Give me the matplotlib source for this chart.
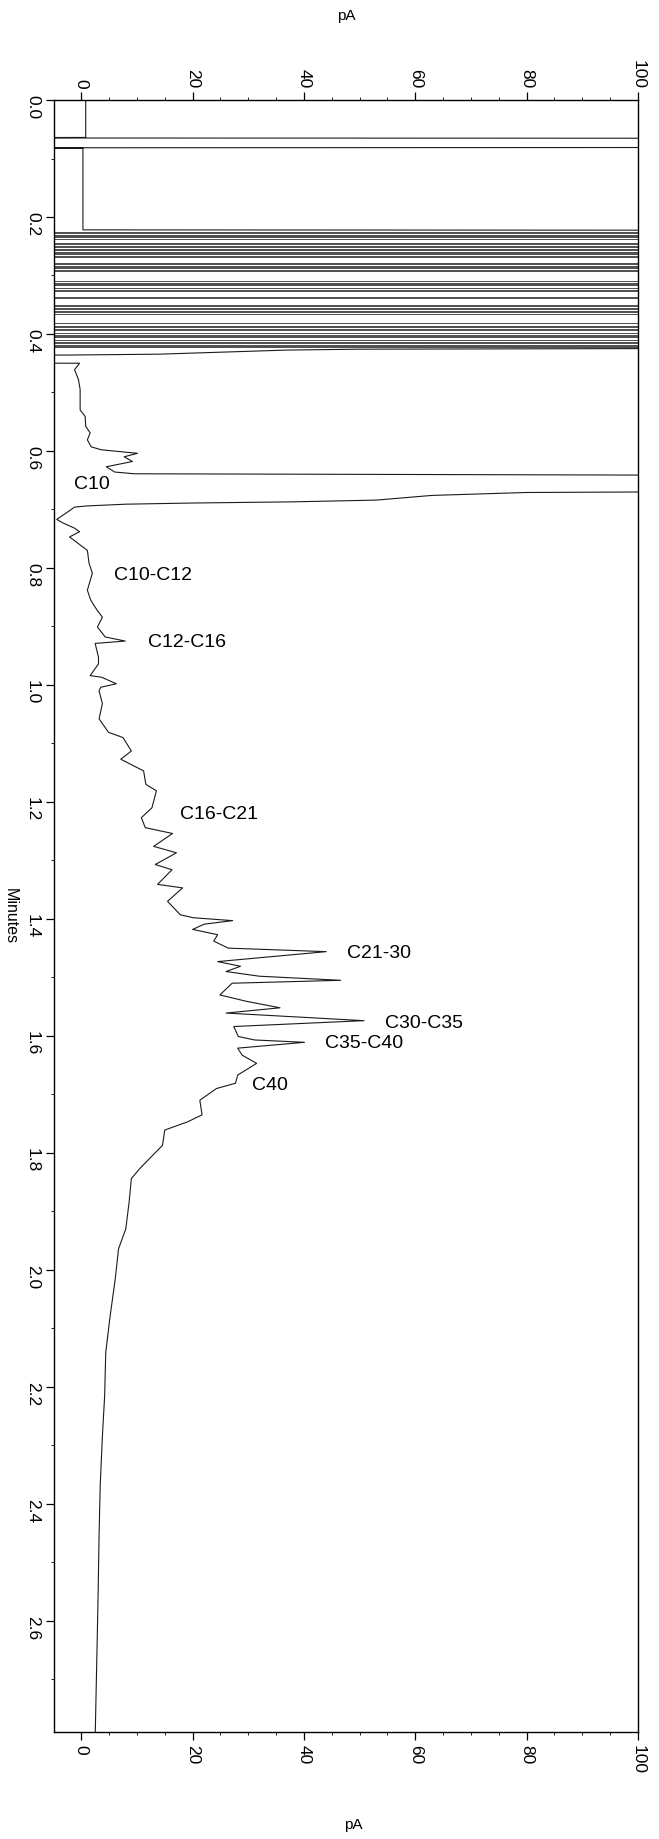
import numpy as np
import matplotlib
matplotlib.use("Agg")
import matplotlib.pyplot as plt
from matplotlib.ticker import MultipleLocator

plt.rcParams['font.family'] = ['Liberation Sans', 'DejaVu Sans']

# start of run: baseline, one off-scale swing, then flat until the solvent burst
start_min = [0.0, 0.064, 0.0648, 0.0655, 0.081, 0.0818, 0.0825, 0.222, 0.2228]
start_pA = [0.8, 0.8, -40, 150, 150, -40, 0.3, 0.3, 150]

# solvent burst: signal swings past both limits, each swing shows as a full-width line
burst_min = [0.226, 0.228, 0.230, 0.232, 0.233, 0.235, 0.238, 0.245, 0.247, 0.250,
             0.252, 0.254, 0.255, 0.257, 0.259, 0.262, 0.264, 0.266, 0.269, 0.278,
             0.281, 0.283, 0.285, 0.288, 0.291, 0.293, 0.309, 0.312, 0.314, 0.317,
             0.321, 0.324, 0.327, 0.336, 0.339, 0.351, 0.353, 0.355, 0.358, 0.360,
             0.362, 0.365, 0.382, 0.386, 0.388, 0.391, 0.394, 0.398, 0.401, 0.403,
             0.405, 0.411, 0.413, 0.415, 0.418, 0.420, 0.422]

# main trace after the burst
trace_min = [0.424, 0.426, 0.4275, 0.430, 0.4345, 0.436, 0.437, 0.4495, 0.450, 0.461,
             0.478, 0.495, 0.530, 0.541, 0.558, 0.569, 0.581, 0.593, 0.598, 0.604,
             0.610, 0.618, 0.627, 0.636, 0.639, 0.640, 0.6425, 0.668, 0.671, 0.676,
             0.684, 0.687, 0.689, 0.691, 0.694, 0.696, 0.704, 0.717, 0.723, 0.732,
             0.738, 0.747, 0.770, 0.792, 0.809, 0.838, 0.855, 0.873, 0.884, 0.901,
             0.918, 0.925, 0.929, 0.953, 0.964, 0.984, 0.987, 0.998, 1.004, 1.010,
             1.032, 1.058, 1.081, 1.090, 1.113, 1.127, 1.147, 1.170, 1.181, 1.210,
             1.227, 1.244, 1.254, 1.276, 1.287, 1.307, 1.316, 1.341, 1.347, 1.370,
             1.393, 1.398, 1.403, 1.409, 1.418, 1.427, 1.438, 1.450, 1.456, 1.473,
             1.481, 1.490, 1.498, 1.505, 1.510, 1.530, 1.541, 1.552, 1.561, 1.574,
             1.584, 1.601, 1.607, 1.611, 1.621, 1.633, 1.647, 1.667, 1.681, 1.690,
             1.710, 1.735, 1.747, 1.761, 1.787, 1.827, 1.844, 1.884, 1.930, 1.964,
             2.016, 2.078, 2.141, 2.216, 2.284, 2.370, 2.455, 2.570, 2.800]
trace_pA = [150, 50, 37, 29, 14, -2, -40, -40, -0.3, -1.2,
            -0.5, -0.2, -0.2, 0.7, 0.8, 1.6, 1.1, 1.8, 3.6, 10.1,
            7.7, 9.2, 4.5, 6.0, 9.5, 52.9, 150, 150, 80, 63,
            53, 38, 20, 8, 1, -1.2, -2.4, -4.4, -3.3, -1.2,
            -0.3, -2.1, 1.1, 1.4, 2.0, 1.1, 1.7, 2.9, 3.8, 2.9,
            4.3, 7.9, 2.5, 3.1, 3.1, 1.6, 3.7, 6.3, 3.5, 3.2,
            3.8, 3.2, 4.9, 7.5, 9.0, 7.1, 11.2, 11.6, 13.5, 12.7,
            10.8, 11.5, 16.4, 13.0, 17.1, 13.3, 16.3, 13.7, 18.2, 15.5,
            17.8, 20.1, 27.2, 22.1, 20.0, 24.5, 23.8, 26.4, 44.0, 24.5,
            28.6, 26.0, 32.0, 46.6, 27.1, 24.9, 29.7, 35.7, 26.0, 50.8,
            27.4, 28.2, 31.1, 40.1, 28.1, 28.9, 31.5, 28.1, 27.7, 24.3,
            21.3, 21.7, 19.1, 15.0, 14.6, 10.5, 9.0, 8.6, 8.0, 6.7,
            6.1, 5.2, 4.4, 4.2, 3.8, 3.4, 3.2, 3.0, 2.5]

# peak labels
peak_names = ["C10", "C10-C12", "C12-C16", "C16-C21", "C21-30", "C30-C35", "C35-C40", "C40"]
peak_pA = [-1.3, 5.9, 11.9, 17.7, 47.7, 54.6, 43.7, 30.7]
peak_min = [0.655, 0.811, 0.926, 1.219, 1.457, 1.577, 1.612, 1.683]

fig = plt.figure(figsize=(6.59, 18.4), dpi=100)
ax = fig.add_axes([0.0819, 0.0582, 0.9681 - 0.0819, 0.9451 - 0.0582])

line_kw = dict(color="#1a1a1a", lw=0.8)
ax.plot(start_pA, start_min, **line_kw)
ax.hlines(burst_min, -40, 150, colors="#4d4d4d", lw=0.7)
ax.plot(trace_pA, trace_min, **line_kw)

for name, x, y in zip(peak_names, peak_pA, peak_min):
    ax.text(x, y, name, fontsize=14, ha="left", va="center")

ax.set_xlim(-4.9, 100)
ax.set_ylim(2.79, 0)   # minutes run downwards

ax.xaxis.set_major_locator(MultipleLocator(20))
ax.xaxis.set_minor_locator(MultipleLocator(5))
ax.yaxis.set_major_locator(MultipleLocator(0.2))
ax.yaxis.set_minor_locator(MultipleLocator(0.1))
ax.yaxis.set_major_formatter(matplotlib.ticker.FormatStrFormatter("%.1f"))

ax.tick_params(axis="x", which="both", top=True, labeltop=True, bottom=True, labelbottom=True,
               direction="out", labelrotation=-90, labelsize=12.5, pad=3)
ax.tick_params(axis="y", which="both", left=True, right=False, direction="out",
               labelrotation=-90, labelsize=12.5, pad=4)
ax.tick_params(which="major", length=6, width=0.9)
ax.tick_params(which="minor", length=2.5, width=0.6)
for s in ax.spines.values():
    s.set_linewidth(1.0)

fig.text(346 / 659, 1 - 16 / 1840, "pA", fontsize=11, ha="center", va="center")
fig.text(353 / 659, 1 - 1825 / 1840, "pA", fontsize=11, ha="center", va="center")
fig.text(10 / 659, 1 - 916 / 1840, "Minutes", fontsize=11.5, rotation=-90, ha="center", va="center")

fig.savefig("out.png", dpi=100)
